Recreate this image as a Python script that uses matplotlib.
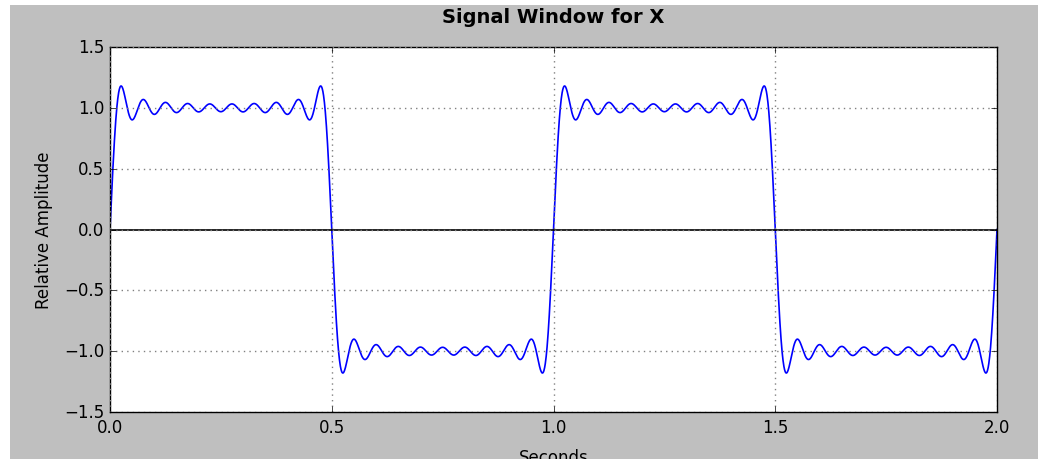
import numpy as np
import matplotlib
matplotlib.use('Agg')
import matplotlib.pyplot as plt
from matplotlib.patches import Rectangle

# odd harmonics (Hz) and their amplitudes read as the spectrum of the window
harmonics = [1, 3, 5, 7, 9, 11, 13, 15, 17, 19]
amplitudes = [1.2732, 0.4244, 0.2546, 0.1819, 0.1415,
              0.1157, 0.0979, 0.0849, 0.0749, 0.0670]
t_start = 0.0
t_stop = 2.0
yticks = [-1.5, -1.0, -0.5, 0.0, 0.5, 1.0, 1.5]
xticks = [0.0, 0.5, 1.0, 1.5, 2.0]

t = np.linspace(t_start, t_stop, 4001)
x = np.zeros_like(t)
for f, a in zip(harmonics, amplitudes):
    x += a * np.sin(2 * np.pi * f * t)

plt.style.use('classic')
plt.rcParams['font.family'] = ['DejaVu Sans']
fig = plt.figure(figsize=(10.38, 4.6), dpi=100, facecolor='white')
# grey screenshot area, offset by a thin white margin on the left and top
fig.patches.append(Rectangle((10 / 1038, -0.1), 1.2, 1.1 - 6 / 460,
                             transform=fig.transFigure, facecolor='#bfbfbf',
                             edgecolor='none', zorder=-10))
ax = fig.add_axes([110 / 1038, 1 - 413 / 460, (997 - 110) / 1038, (413 - 48) / 460])
ax.plot(t, x, 'b', linewidth=1.2)
ax.axhline(0, color='k', linewidth=1.2)
ax.set_xlim(t_start, t_stop)
ax.set_ylim(-1.5, 1.5)
ax.set_xticks(xticks)
ax.set_yticks(yticks)
ax.tick_params(labelsize=12)
ax.grid(True, color='#808080', linestyle=':', linewidth=1.0)
ax.set_title('Signal Window for X', fontsize=14, fontweight='bold', pad=18)
ax.set_xlabel('Seconds', fontsize=12, labelpad=9)
ax.set_ylabel('Relative Amplitude', fontsize=12, labelpad=8)

fig.savefig('out.png', dpi=100, facecolor=fig.get_facecolor())
